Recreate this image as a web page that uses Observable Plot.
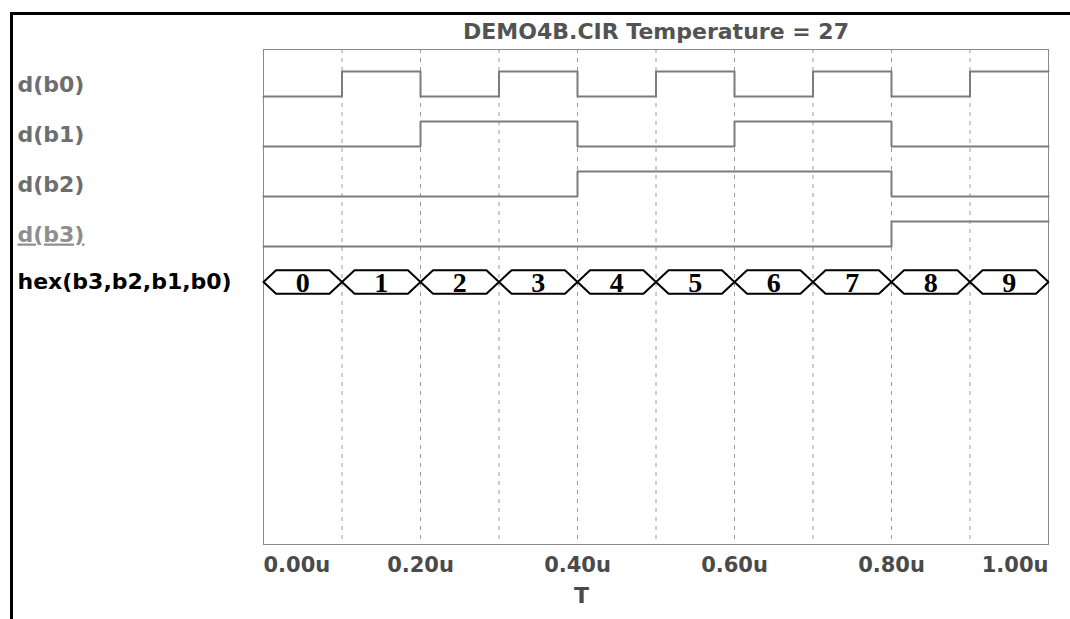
<!DOCTYPE html>
<html>
<head>
<meta charset="utf-8">
<script src="https://cdn.jsdelivr.net/npm/d3@7"></script>
<script src="https://cdn.jsdelivr.net/npm/@observablehq/plot@0.6"></script>
<style>
  html, body { margin: 0; padding: 0; background: #fff; }
  #wrap { position: relative; width: 1070px; height: 619px; overflow: hidden; background: #fff; }
  #wrap svg { position: absolute; left: 0; top: 0; }
  #border { position: absolute; left: 10px; top: 12px; right: -10px; bottom: -10px;
            border-top: 3px solid #000; border-left: 3px solid #000; pointer-events: none; }
</style>
</head>
<body>
<div id="wrap"><div id="border"></div></div>
<script>
// ---- data ----
const titleText = "DEMO4B.CIR Temperature = 27";
const axisLabel = "T";
const times = [0, 0.1, 0.2, 0.3, 0.4, 0.5, 0.6, 0.7, 0.8, 0.9, 1.0]; // microseconds
const signalNames = ["d(b0)", "d(b1)", "d(b2)", "d(b3)"];
const b0 = [0, 1, 0, 1, 0, 1, 0, 1, 0, 1];
const b1 = [0, 0, 1, 1, 0, 0, 1, 1, 0, 0];
const b2 = [0, 0, 0, 0, 1, 1, 1, 1, 0, 0];
const b3 = [0, 0, 0, 0, 0, 0, 0, 0, 1, 1];
const busName = "hex(b3,b2,b1,b0)";
const hexValues = ["0", "1", "2", "3", "4", "5", "6", "7", "8", "9"];
const tickValues = [0, 0.2, 0.4, 0.6, 0.8, 1.0];
const gridTimes = [0.1, 0.2, 0.3, 0.4, 0.5, 0.6, 0.7, 0.8, 0.9];

// ---- derived tables ----
const bits = [b0, b1, b2, b3];
const rowLow = 0.94, rowHigh = 0.44, labelRow = 0.70;
const busRow = 4.65, busHalf = 0.235, busSlope = 0.016;

const steps = [];
bits.forEach((lv, i) => {
  lv.forEach((l, k) => steps.push({t: times[k], y: i + rowLow - (rowLow - rowHigh) * l, name: signalNames[i]}));
  steps.push({t: times[times.length - 1], y: i + rowLow - (rowLow - rowHigh) * lv[lv.length - 1], name: signalNames[i]});
});

const hexPts = [];
const hexLabels = [];
hexValues.forEach((v, k) => {
  const a = times[k], b = times[k + 1];
  const pts = [[a, busRow], [a + busSlope, busRow - busHalf], [b - busSlope, busRow - busHalf],
               [b, busRow], [b - busSlope, busRow + busHalf], [a + busSlope, busRow + busHalf], [a, busRow]];
  pts.forEach(([t, y]) => hexPts.push({t, y, k}));
  hexLabels.push({t: (a + b) / 2, v});
});

const labels = signalNames.map((n, i) => ({name: n, y: i + labelRow}));
labels.push({name: busName, y: busRow});
const labelColor = ["#6e6e6e", "#6e6e6e", "#6e6e6e", "#8e8e8e", "#000000"];

const fmt = d => d3.format(".2f")(d) + "u";
const tickFont = {fontSize: 21, fontWeight: "bold", fill: "#4a4a4a", frameAnchor: "bottom", dy: 27};

const chart = Plot.plot({
  width: 1070, height: 619,
  marginLeft: 263, marginRight: 22, marginTop: 49, marginBottom: 75,
  x: {domain: [0, 1], axis: null},
  y: {domain: [0, 9.9], reverse: true, axis: null},
  style: {fontFamily: "DejaVu Sans", background: "transparent", overflow: "visible"},
  marks: [
    Plot.ruleX(gridTimes, {stroke: "#9a9a9a", strokeDasharray: "4,5", strokeWidth: 1}),
    Plot.frame({stroke: "#8a8a8a", strokeWidth: 1}),
    Plot.line(steps, {x: "t", y: "y", z: "name", curve: "step-after", stroke: "#7c7c7c", strokeWidth: 2}),
    Plot.line(hexPts, {x: "t", y: "y", z: "k", stroke: "#000", strokeWidth: 2, strokeLinejoin: "miter"}),
    Plot.text(hexLabels, {x: "t", y: () => busRow, text: "v", dy: 1, fontFamily: "Liberation Serif", fontWeight: "bold", fontSize: 28, fill: "#000"}),
    Plot.text(labels, {y: "y", text: "name", frameAnchor: "left", dx: -246, textAnchor: "start",
      fontSize: 22, fontWeight: "bold", fill: (d, i) => labelColor[i]}),
    Plot.text([titleText], {frameAnchor: "top", dy: -26, fontSize: 22, fontWeight: "bold", fill: "#535353"}),
    Plot.text(tickValues.slice(0, 1), {x: d => d, text: fmt, textAnchor: "start", ...tickFont}),
    Plot.text(tickValues.slice(1, -1), {x: d => d, text: fmt, textAnchor: "middle", ...tickFont}),
    Plot.text(tickValues.slice(-1), {x: d => d, text: fmt, textAnchor: "end", ...tickFont}),
    Plot.text([axisLabel], {x: () => tickValues[2], dx: 4, frameAnchor: "bottom", dy: 58, fontSize: 22, fontWeight: "bold", fill: "#4a4a4a"})
  ]
});
d3.select(chart).selectAll("text").each(function() {
  const t = this.textContent;
  const idx = labels.findIndex(l => l.name === t);
  if (idx >= 0) this.setAttribute("fill", labelColor[idx]);
  if (t === signalNames[3]) this.setAttribute("text-decoration", "underline");
});
document.getElementById("wrap").insertBefore(chart, document.getElementById("border"));
</script>
</body>
</html>
